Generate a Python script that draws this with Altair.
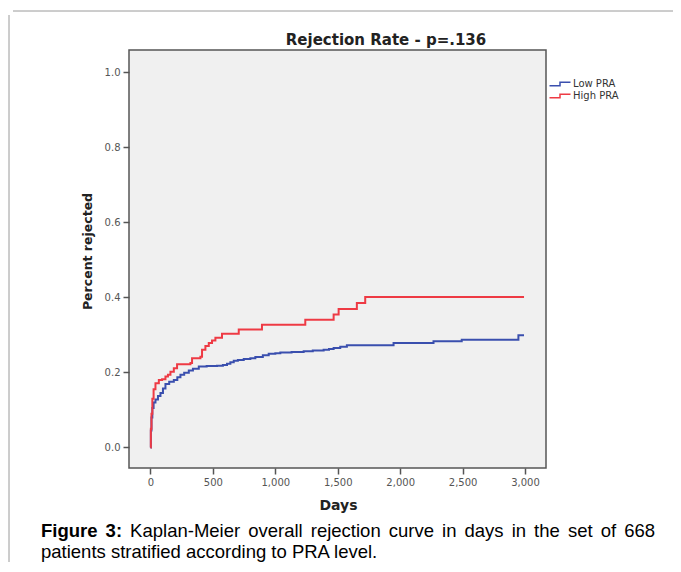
import altair as alt
import pandas as pd

# ---------------- data ----------------
series = ["Low PRA", "High PRA"]
colors = ["#3A4FAE", "#EE3A44"]

days_low = [0, 3, 8, 15, 25, 40, 60, 80, 100, 120, 150, 187, 215, 240, 270, 307, 340, 387,
            450, 533, 580, 613, 640, 667, 700, 747, 800, 840, 900, 947, 1000, 1040, 1130,
            1227, 1300, 1387, 1430, 1467, 1520, 1573, 1947, 2267, 2493, 2947, 2992]
rej_low = [0, 0.045, 0.08, 0.105, 0.12, 0.128, 0.137, 0.145, 0.157, 0.169, 0.175, 0.18, 0.187,
           0.194, 0.199, 0.205, 0.21, 0.216, 0.217, 0.218, 0.22, 0.223, 0.227, 0.231, 0.233,
           0.236, 0.238, 0.241, 0.246, 0.25, 0.251, 0.253, 0.254, 0.256, 0.258, 0.26, 0.262,
           0.265, 0.268, 0.272, 0.278, 0.283, 0.287, 0.299, 0.299]

days_high = [0, 3, 8, 15, 25, 40, 67, 93, 120, 140, 160, 187, 213, 320, 333, 400, 413, 440,
             467, 493, 520, 573, 707, 893, 1240, 1467, 1507, 1653, 1720, 2992]
rej_high = [0, 0.05, 0.09, 0.13, 0.155, 0.171, 0.18, 0.182, 0.189, 0.194, 0.202, 0.211, 0.222,
            0.225, 0.238, 0.242, 0.26, 0.27, 0.278, 0.285, 0.292, 0.303, 0.314, 0.327, 0.340,
            0.354, 0.369, 0.385, 0.401, 0.401]

x_ticks = [0, 500, 1000, 1500, 2000, 2500, 3000]
y_ticks = [0.0, 0.2, 0.4, 0.6, 0.8, 1.0]

title_text = "Rejection Rate - p=.136"
x_title = "Days"
y_title = "Percent rejected"
caption_bold = ["Figure", "3:"]
caption_line1 = "Kaplan-Meier overall rejection curve in days in the set of 668"
caption_line2 = "patients stratified according to PRA level."

# ---------------- tables ----------------
df = pd.concat([
    pd.DataFrame({"day": days_low, "rej": rej_low, "group": series[0]}),
    pd.DataFrame({"day": days_high, "rej": rej_high, "group": series[1]}),
], ignore_index=True)

# ---------------- layout ----------------
W, H = 417, 418
PAD_L, PAD_T = 121, 42
x_scale = alt.Scale(domain=[-172, 3168], nice=False, zero=False)
y_scale = alt.Scale(domain=[-0.0546, 1.0586], nice=False, zero=False)

# justified caption line 1 (Arial metrics, per 1000 em)
AW = dict(zip("abcdefghijklmnopqrstuvwxyz",
              [556, 556, 500, 556, 556, 278, 556, 556, 222, 222, 500, 222, 833, 556, 556, 556,
               556, 333, 500, 278, 556, 500, 722, 500, 500, 500]))
AW.update({"K": 667, "M": 833, "P": 667, "R": 722, "A": 667, "-": 333, ".": 278, ":": 278,
           "6": 556, "8": 556, "3": 556})
BW = {"F": 611, "i": 278, "g": 611, "u": 611, "r": 389, "e": 556, "3": 556, ":": 333}
CAP_SIZE = 18.5


def tw(word, table):
    return sum(table.get(c, 556) for c in word) * CAP_SIZE / 1000.0


words = caption_bold + caption_line1.split(" ")
widths = [tw(w, BW) if i < len(caption_bold) else tw(w, AW) for i, w in enumerate(words)]
x0, x1 = 41 - 129, 655 - 129
gap = (x1 - x0 - sum(widths)) / (len(words) - 1)
pos = []
cur = x0
for w_ in widths:
    pos.append(cur)
    cur += w_ + gap
cap_df = pd.DataFrame({"word": words, "px": pos,
                       "bold": [i < len(caption_bold) for i in range(len(words))]})

FONT = "DejaVu Sans"

lines = alt.Chart(df).mark_line(interpolate="step-after", strokeWidth=2, clip=True).encode(
    x=alt.X("day:Q", scale=x_scale,
            axis=alt.Axis(values=x_ticks, format=",d", title=x_title, grid=False, domain=False,
                          tickColor="#555", tickSize=6, tickWidth=1.5, labelPadding=3,
                          labelFont=FONT, labelFontSize=10, labelColor="#555",
                          titleFont=FONT, titleFontSize=14, titleFontWeight="bold",
                          titleColor="#222", titleX=209, titleY=37, titleBaseline="middle",
                          titleAlign="center")),
    y=alt.Y("rej:Q", scale=y_scale,
            axis=alt.Axis(values=y_ticks, format=".1f", title=y_title, grid=False, domain=False,
                          tickColor="#555", tickSize=6, tickWidth=1.5, labelPadding=3,
                          labelFont=FONT, labelFontSize=10, labelColor="#555",
                          titleFont=FONT, titleFontSize=12.5, titleFontWeight="bold",
                          titleColor="#222", titleX=-42, titleY=201, titleAngle=-90,
                          titleBaseline="middle", titleAlign="center")),
    color=alt.Color("group:N", scale=alt.Scale(domain=series, range=colors),
                    legend=alt.Legend(orient="none", legendX=424, legendY=27, title=None,
                                      direction="vertical",
                                      symbolType="M-1.75,0.28L0,0.28L0,-0.28L1.75,-0.28",
                                      symbolSize=144, symbolStrokeWidth=1.5,
                                      symbolFillColor="transparent",
                                      labelFont=FONT, labelFontSize=10, labelColor="#333",
                                      labelOffset=6, rowPadding=0, padding=0)),
)

one = pd.DataFrame({"k": [0]})

title = alt.Chart(one).mark_text(text=title_text, font=FONT, fontSize=15, fontWeight="bold",
                                 color="#222", align="center", baseline="alphabetic").encode(
    x=alt.value(257), y=alt.value(-5))

cap_bold = alt.Chart(cap_df).transform_filter("datum.bold").mark_text(
    font="Liberation Sans", fontSize=CAP_SIZE, fontWeight="bold", color="#000",
    align="left", baseline="alphabetic").encode(
    x=alt.X("px:Q", scale=None), y=alt.value(487), text="word:N")

cap_norm = alt.Chart(cap_df).transform_filter("!datum.bold").mark_text(
    font="Liberation Sans", fontSize=CAP_SIZE, color="#000",
    align="left", baseline="alphabetic").encode(
    x=alt.X("px:Q", scale=None), y=alt.value(487), text="word:N")

cap2 = alt.Chart(one).mark_text(text=caption_line2, font="Liberation Sans", fontSize=CAP_SIZE,
                                color="#000", align="left", baseline="alphabetic").encode(
    x=alt.value(41 - 129), y=alt.value(508))

border_top = alt.Chart(one).mark_rule(color="#9a9a9a", strokeWidth=1).encode(
    x=alt.value(-116), x2=alt.value(560), y=alt.value(-39))
border_left = alt.Chart(one).mark_rule(color="#9a9a9a", strokeWidth=1).encode(
    x=alt.value(-120), y=alt.value(-35), y2=alt.value(530))

chart = alt.layer(border_top, border_left, lines, title, cap_bold, cap_norm, cap2).properties(
    width=W, height=H, padding={"left": PAD_L, "top": PAD_T, "right": 127, "bottom": 94},
    autosize=alt.AutoSizeParams(type="none"), background="white",
).configure_view(stroke="#555", strokeWidth=1.5, fill="#F0F0F0")

chart.save("out.html", embed_options={"renderer": "svg", "actions": False})
